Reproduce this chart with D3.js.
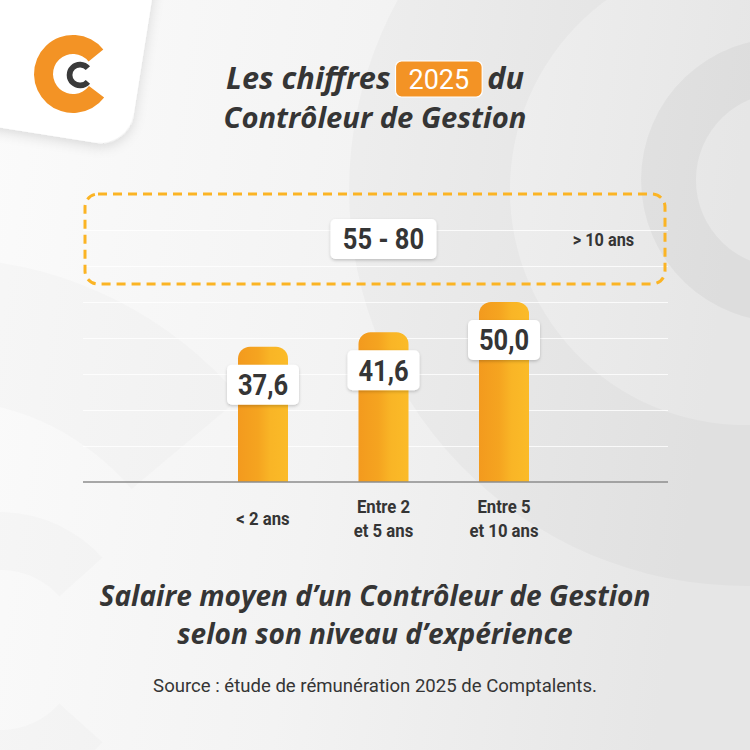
<!DOCTYPE html>
<html>
<head>
<meta charset="utf-8">
<script src="https://cdn.jsdelivr.net/npm/d3@7"></script>
<style>
  body { margin: 0; background: #f4f4f4; }
  svg { display: block; }
</style>
</head>
<body>
<svg width="750" height="750"></svg>
<script>
  // ---- data ----
  const categories = ['< 2 ans', 'Entre 2 et 5 ans', 'Entre 5 et 10 ans', '> 10 ans'];
  const categoryLines = [['< 2 ans'], ['Entre 2', 'et 5 ans'], ['Entre 5', 'et 10 ans'], ['> 10 ans']];
  const salaries = [37.6, 41.6, 50.0];
  const salaryLabels = ['37,6', '41,6', '50,0'];
  const seniorRange = [55, 80];
  const seniorLabel = '55 - 80';
  const gridTicks = [10, 20, 30, 40, 50, 60, 70];

  const svg = d3.select('svg');
  const width = +svg.attr('width');
  const height = +svg.attr('height');
  const dark = '#353535';
  const condensed = 'scale(0.88,1)';
  const headFont = '"Open Sans", Roboto, sans-serif';

  const plotLeft = 83, plotRight = 668;
  const y = d3.scaleLinear().domain([0, 80]).range([482, 194]);
  const x = d3.scaleBand()
    .domain(categories)
    .range([202.75, 684.75])
    .paddingInner(0.585)
    .paddingOuter(0.2925);
  const bw = x.bandwidth();
  const cx = c => x(c) + bw / 2;

  // scale a text's font size so that it spans a given width
  const fit = (sel, target) => {
    const fs = +sel.attr('font-size');
    const w = sel.node().getComputedTextLength();
    sel.attr('font-size', fs * target / w);
    return sel;
  };

  // ---- defs ----
  const defs = svg.append('defs');
  const bg = defs.append('linearGradient').attr('id', 'bg')
    .attr('x1', 0).attr('y1', 0).attr('x2', 1).attr('y2', 0.15);
  bg.append('stop').attr('offset', 0).attr('stop-color', '#fbfbfb');
  bg.append('stop').attr('offset', 0.5).attr('stop-color', '#f3f3f3');
  bg.append('stop').attr('offset', 1).attr('stop-color', '#e6e6e6');

  const barGrad = defs.append('linearGradient').attr('id', 'bar')
    .attr('x1', 0).attr('y1', 0).attr('x2', 1).attr('y2', 0);
  [[0, '#f39a1e'], [0.4, '#f5a420'], [0.65, '#f9b526'], [1, '#fbbb28']].forEach(([o, c]) =>
    barGrad.append('stop').attr('offset', o).attr('stop-color', c));

  const shadow = defs.append('filter').attr('id', 'shadow')
    .attr('x', '-20%').attr('y', '-20%').attr('width', '140%').attr('height', '160%');
  shadow.append('feDropShadow').attr('dx', 0).attr('dy', 1.5)
    .attr('stdDeviation', 1.6).attr('flood-opacity', 0.2);

  const cardShadow = defs.append('filter').attr('id', 'cardShadow')
    .attr('x', '-20%').attr('y', '-20%').attr('width', '150%').attr('height', '150%');
  cardShadow.append('feDropShadow').attr('dx', 1).attr('dy', 4)
    .attr('stdDeviation', 6).attr('flood-opacity', 0.12);

  // ---- background ----
  svg.append('rect').attr('width', width).attr('height', height).attr('fill', 'url(#bg)');

  const deg = d => d * Math.PI / 180;
  const ring = (r0, r1, a0, a1) => d3.arc()
    .innerRadius(r0).outerRadius(r1).startAngle(deg(a0)).endAngle(deg(a1))();

  const marks = [
    { cx: 745, cy: 190, r0: 235, r1: 396, a0: 130, a1: 410, op: 0.022 },
    { cx: 783, cy: 180, r0: 87, r1: 142, a0: 131, a1: 409, op: 0.035 },
    { cx: -60, cy: 650, r0: 250, r1: 392, a0: 130, a1: 410, op: 0.016 },
    { cx: 0, cy: 650, r0: 80, r1: 138, a0: 132, a1: 408, op: 0.016 }
  ];
  svg.append('g').selectAll('path').data(marks).join('path')
    .attr('transform', d => `translate(${d.cx},${d.cy})`)
    .attr('d', d => ring(d.r0, d.r1, d.a0, d.a1))
    .attr('fill', '#000')
    .attr('fill-opacity', d => d.op);

  // ---- logo card ----
  svg.append('rect')
    .attr('transform', 'rotate(9)')
    .attr('x', -300).attr('y', -300)
    .attr('width', 450).attr('height', 426)
    .attr('rx', 34)
    .attr('fill', '#ffffff')
    .attr('filter', 'url(#cardShadow)');

  svg.append('path')
    .attr('transform', 'translate(73,74)')
    .attr('d', ring(20, 39, 127, 411))
    .attr('fill', '#f39325');
  svg.append('path')
    .attr('transform', 'translate(80,75)')
    .attr('d', ring(7.6, 13.3, 131, 409))
    .attr('fill', '#3a3a3a');

  // ---- title ----
  const title = svg.append('g')
    .attr('font-family', headFont)
    .attr('font-style', 'italic')
    .attr('font-weight', 700)
    .attr('fill', dark);

  const t2 = title.append('text')
    .attr('x', width / 2).attr('y', 128)
    .attr('text-anchor', 'middle')
    .attr('font-size', 26)
    .text('Contrôleur de Gestion');
  fit(t2, 303);
  const titleSize = +t2.attr('font-size');

  const t1 = title.append('text').attr('y', 89).attr('font-size', titleSize).text('Les chiffres');
  const t3 = title.append('text').attr('y', 89).attr('font-size', titleSize).text('du');
  const badge = svg.append('rect');
  const yearText = svg.append('text')
    .attr('y', 89)
    .attr('font-family', 'Roboto, sans-serif')
    .attr('font-size', 27)
    .attr('fill', '#ffffff')
    .attr('text-anchor', 'middle')
    .text('2025');
  const badgeW = yearText.node().getComputedTextLength() + 26;
  const gap = 5;
  // line one spans the same width as in the reference
  const words = t1.node().getComputedTextLength() + t3.node().getComputedTextLength();
  const k = (298 - badgeW - 2 * gap) / words;
  t1.attr('font-size', titleSize * k);
  t3.attr('font-size', titleSize * k);
  const w1 = t1.node().getComputedTextLength();
  const w3 = t3.node().getComputedTextLength();
  const start = width / 2 - (w1 + gap + badgeW + gap + w3) / 2;
  t1.attr('x', start);
  badge
    .attr('x', start + w1 + gap).attr('y', 61)
    .attr('width', badgeW).attr('height', 36)
    .attr('rx', 6)
    .attr('fill', '#f39325')
    .attr('stroke', '#ffffff').attr('stroke-width', 1.2);
  yearText.attr('x', start + w1 + gap + badgeW / 2);
  t3.attr('x', start + w1 + gap + badgeW + gap);

  // ---- grid ----
  const gridAxis = d3.axisLeft(y)
    .tickValues(gridTicks)
    .tickSize(-(plotRight - plotLeft))
    .tickFormat('');
  svg.append('g')
    .attr('transform', `translate(${plotLeft},0)`)
    .call(gridAxis)
    .call(g => g.select('.domain').remove())
    .call(g => g.selectAll('line')
      .attr('stroke', '#ffffff')
      .attr('stroke-opacity', 0.8)
      .attr('stroke-width', 1.2));

  // ---- senior range box ----
  svg.append('rect')
    .attr('x', plotLeft + 2).attr('y', y(seniorRange[1]))
    .attr('width', plotRight - plotLeft - 5)
    .attr('height', y(seniorRange[0]) - y(seniorRange[1]))
    .attr('rx', 13)
    .attr('fill', 'none')
    .attr('stroke', '#fbb424')
    .attr('stroke-width', 3)
    .attr('stroke-dasharray', '9 6');

  const midRange = y((seniorRange[0] + seniorRange[1]) / 2);
  const rangeG = svg.append('g')
    .attr('transform', `translate(${cx(categories[1])},${midRange})`);
  rangeG.append('rect')
    .attr('x', -53).attr('y', -20).attr('width', 106).attr('height', 40)
    .attr('rx', 5).attr('fill', '#ffffff').attr('filter', 'url(#shadow)');
  rangeG.append('text')
    .attr('transform', condensed)
    .attr('text-anchor', 'middle').attr('dy', '0.36em')
    .attr('font-family', 'Roboto, sans-serif').attr('font-weight', 700)
    .attr('font-size', 29).attr('fill', dark)
    .text(seniorLabel);

  svg.append('text')
    .attr('transform', `translate(${cx(categories[3]) - 21},${midRange}) ${condensed}`)
    .attr('text-anchor', 'middle').attr('dy', '0.36em')
    .attr('font-family', 'Roboto, sans-serif').attr('font-weight', 700)
    .attr('font-size', 18.5).attr('fill', dark)
    .text(categoryLines[3][0]);

  // ---- bars ----
  const barData = salaries.map((v, i) => ({ cat: categories[i], v, label: salaryLabels[i] }));
  const r = 12;
  const barPath = d => {
    const x0 = x(d.cat), y0 = y(d.v), y1 = y(0);
    return `M${x0},${y1}V${y0 + r}A${r},${r} 0 0 1 ${x0 + r},${y0}` +
      `H${x0 + bw - r}A${r},${r} 0 0 1 ${x0 + bw},${y0 + r}V${y1}Z`;
  };
  svg.append('g').selectAll('path').data(barData).join('path')
    .attr('d', barPath)
    .attr('fill', 'url(#bar)');

  // axis line
  svg.append('line')
    .attr('x1', plotLeft).attr('x2', plotRight)
    .attr('y1', y(0)).attr('y2', y(0))
    .attr('stroke', '#8c8c8c').attr('stroke-width', 1.5);

  // value labels
  const labels = svg.append('g').selectAll('g').data(barData).join('g')
    .attr('transform', d => `translate(${cx(d.cat)},${y(d.v) + 38})`);
  labels.append('rect')
    .attr('x', -36).attr('y', -20).attr('width', 72).attr('height', 40)
    .attr('rx', 5).attr('fill', '#ffffff').attr('filter', 'url(#shadow)');
  labels.append('text')
    .attr('transform', condensed)
    .attr('text-anchor', 'middle').attr('dy', '0.36em')
    .attr('font-family', 'Roboto, sans-serif').attr('font-weight', 700)
    .attr('font-size', 29).attr('fill', dark)
    .text(d => d.label);

  // category labels
  const catG = svg.append('g').selectAll('g').data(categories.slice(0, 3)).join('g')
    .attr('transform', c => `translate(${cx(c)},${y(0) + 36})`);
  catG.each(function (c, i) {
    const lines = categoryLines[i];
    d3.select(this).selectAll('text').data(lines).join('text')
      .attr('transform', (l, j) => `translate(0,${(j - (lines.length - 1) / 2) * 24}) ${condensed}`)
      .attr('text-anchor', 'middle').attr('dy', '0.36em')
      .attr('font-family', 'Roboto, sans-serif').attr('font-weight', 700)
      .attr('font-size', 19).attr('fill', dark)
      .text(l => l);
  });

  // ---- subtitle & source ----
  const sub = svg.append('g')
    .attr('font-family', headFont)
    .attr('font-style', 'italic')
    .attr('font-weight', 700)
    .attr('fill', dark)
    .attr('text-anchor', 'middle');
  const s1 = sub.append('text').attr('x', width / 2).attr('y', 606)
    .attr('font-size', 26)
    .text('Salaire moyen d’un Contrôleur de Gestion');
  fit(s1, 551);
  sub.append('text').attr('x', width / 2).attr('y', 644)
    .attr('font-size', s1.attr('font-size'))
    .text('selon son niveau d’expérience');

  const src = svg.append('text')
    .attr('x', width / 2).attr('y', 692)
    .attr('text-anchor', 'middle')
    .attr('font-family', 'Roboto, sans-serif')
    .attr('font-size', 17)
    .attr('fill', dark)
    .text('Source : étude de rémunération 2025 de Comptalents.');
  fit(src, 444);
</script>
</body>
</html>
